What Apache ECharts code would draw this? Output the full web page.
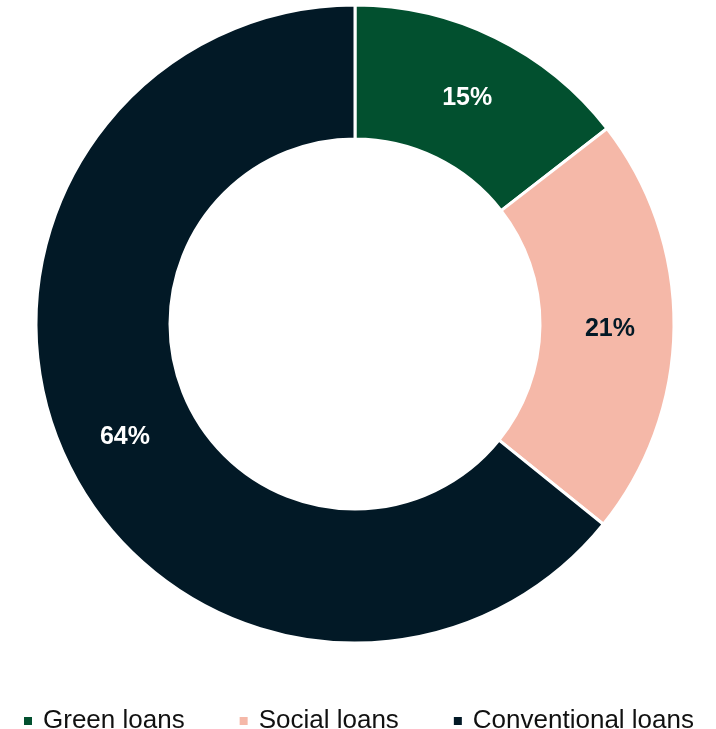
<!DOCTYPE html>
<html><head><meta charset="utf-8">
<script src="https://cdn.jsdelivr.net/npm/echarts@6/dist/echarts.min.js"></script>
<style>html,body{margin:0;padding:0;background:#fff}#c{width:716px;height:729px}</style>
</head><body><div id="c"></div>
<script>
const categories = ['Green loans', 'Social loans', 'Conventional loans'];
const values = [14.5, 21.3, 64.2];
const colors = ['#02502F', '#F5B8A8', '#021926'];
const labelColors = ['#ffffff', '#021926', '#ffffff'];

const chart = echarts.init(document.getElementById('c'), null, {renderer: 'canvas'});
chart.setOption({
  animation: false,
  legend: {
    top: 703,
    left: 'center',
    icon: 'path://M0,0L10,0L10,10L0,10Z',
    symbolKeepAspect: true,
    itemWidth: 20,
    itemHeight: 10,
    itemGap: 53,
    textStyle: {fontFamily: 'Liberation Sans, Arial, sans-serif', fontSize: 26, color: '#111'},
    data: categories
  },
  series: [{
    type: 'pie',
    center: [355, 324],
    radius: [185, 319],
    startAngle: 90,
    clockwise: true,
    itemStyle: {borderColor: '#fff', borderWidth: 3},
    label: {
      position: 'inside',
      offset: [0, 3],
      fontFamily: 'Liberation Sans, Arial, sans-serif',
      fontSize: 25,
      fontWeight: 'bold',
      formatter: p => Math.round(p.value) + '%'
    },
    labelLine: {show: false},
    data: categories.map((c, i) => ({
      name: c, value: values[i],
      itemStyle: {color: colors[i]},
      label: {color: labelColors[i]}
    }))
  }]
});
</script></body></html>
